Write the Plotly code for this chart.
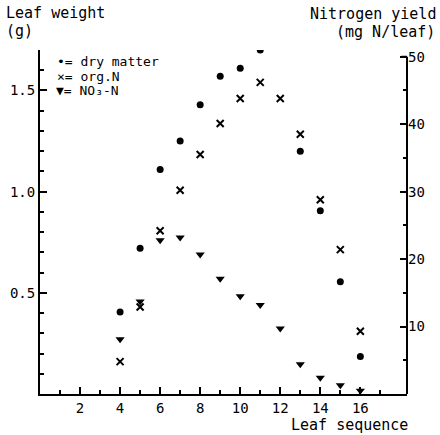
import plotly.graph_objects as go

leaf = [4, 5, 6, 7, 8, 9, 10, 11, 12, 13, 14, 15, 16]
dry_matter = [0.405, 0.72, 1.11, 1.25, 1.43, 1.57, 1.61, 1.70, None, 1.20, 0.905, 0.555, 0.185]
org_n = [4.8, 12.9, 24.2, 30.2, 35.5, 40.1, 43.8, 46.2, 43.8, 38.5, 28.8, 21.4, 9.3]
no3_n = [8.1, 13.7, 22.8, 23.2, 20.7, 17.1, 14.5, 13.2, 9.7, 4.4, 2.4, 1.3, 0.5]

x_ticks = [2, 4, 6, 8, 10, 12, 14, 16]
left_ticks = [0.5, 1.0, 1.5]
right_ticks = [10, 20, 30, 40, 50]

W, H = 440, 435
ML, MR, MT, MB = 40, 33, 50, 41
FONT = "DejaVu Sans Mono"

fig = go.Figure()
fig.add_trace(go.Scatter(x=leaf, y=dry_matter, mode="markers", name="dry matter",
                         marker=dict(symbol="circle", size=7, color="black")))
fig.add_trace(go.Scatter(x=leaf, y=org_n, mode="markers", name="org.N", yaxis="y2",
                         marker=dict(symbol="x-thin", size=7, color="black",
                                     line=dict(width=2, color="black"))))
fig.add_trace(go.Scatter(x=leaf, y=no3_n, mode="markers", name="NO3-N", yaxis="y2",
                         marker=dict(symbol="triangle-down", size=8, color="black")))

axis_common = dict(showgrid=False, zeroline=False, ticks="inside", linecolor="black",
                   tickcolor="black", linewidth=2, tickwidth=2,
                   tickfont=dict(family=FONT, size=14, color="black"))

fig.update_layout(
    width=W, height=H,
    margin=dict(l=ML, r=MR, t=MT, b=MB, autoexpand=False),
    paper_bgcolor="white", plot_bgcolor="white",
    showlegend=False,
    font=dict(family=FONT, color="black"),
    xaxis=dict(range=[0, 18.33], tickvals=x_ticks, ticklen=7, showline=True,
               minor=dict(tickvals=[1, 3, 5, 7, 9, 11, 13, 15, 17], ticks="inside",
                          ticklen=4, tickcolor="black", tickwidth=1.5),
               **axis_common),
    yaxis=dict(range=[0, 1.7], tickvals=left_ticks, ticktext=["0.5", "1.0", "1.5"],
               ticklen=7, showline=True,
               minor=dict(tickvals=[0.1, 0.2, 0.3, 0.4, 0.6, 0.7, 0.8, 0.9, 1.1, 1.2,
                                    1.3, 1.4, 1.6, 1.7],
                          ticks="inside", ticklen=4, tickcolor="black", tickwidth=1.5),
               **axis_common),
    yaxis2=dict(range=[0, 51], overlaying="y", side="right", tickvals=right_ticks,
                ticklen=7, showline=False,
                minor=dict(tickvals=[5, 15, 25, 35, 45], ticks="inside", ticklen=4,
                           tickcolor="black", tickwidth=1.5),
                **axis_common),
)

# right axis line ends at 50
fig.add_shape(type="line", xref="paper", yref="y2", x0=1, x1=1, y0=0, y1=50,
              line=dict(color="black", width=2))
fig.add_shape(type="line", xref="paper", yref="y2", x0=0.985, x1=1, y0=50, y1=50,
              line=dict(color="black", width=2))


def px2paper(px, py):
    return (px - ML) / (W - ML - MR), (H - MB - py) / (H - MT - MB)


ann = [
    ("Leaf weight", 4, 13, "left", 15),
    ("(g)", 4, 31, "left", 15),
    ("Nitrogen yield", 438, 14, "right", 15),
    ("(mg N/leaf)", 437, 32, "right", 15),
    ("Leaf sequence", 410, 425, "right", 15),
    ("\u2022= dry matter", 55, 62, "left", 13),
    ("\u00d7= org.N", 55, 76, "left", 13),
    ("\u25bc= NO\u2083-N", 54, 90, "left", 13),
]
for text, px, py, anchor, size in ann:
    x, y = px2paper(px, py)
    fig.add_annotation(text=text, x=x, y=y, xref="paper", yref="paper",
                       xanchor=anchor, yanchor="middle", showarrow=False,
                       font=dict(family=FONT, size=size, color="black"))

fig.write_html("out.html", config={"displayModeBar": False},
               post_script="document.body.style.margin='0';")
